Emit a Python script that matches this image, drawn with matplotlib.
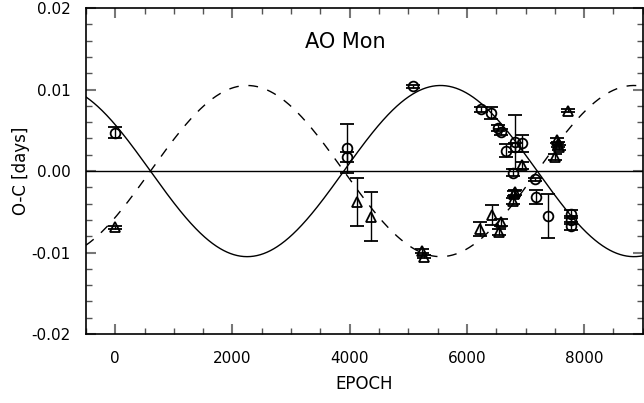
import numpy as np
import matplotlib
matplotlib.use("Agg")
import matplotlib.pyplot as plt
from matplotlib.ticker import MultipleLocator, FormatStrFormatter

# Primary minima (circles): epoch, O-C, error
prim_epoch = [0, 3950, 3950, 5085, 6237, 6407, 6526, 6577, 6814, 6933, 6814,
              6661, 6780, 7170, 7187, 7390, 7780, 7780, 7780]
prim_oc = [0.0047, 0.0028, 0.0017, 0.0104, 0.0076, 0.0071, 0.0053, 0.0048,
           0.0036, 0.0034, 0.0029, 0.0025, -0.0002, -0.0010, -0.0032, -0.0055,
           -0.0053, -0.0060, -0.0067]
prim_err = [0.0007, 0.0030, 0.0006, 0.0002, 0.0003, 0.0007, 0.0004, 0.0004,
            0.0033, 0.0010, 0.0005, 0.0008, 0.0004, 0.0002, 0.0009, 0.0027,
            0.0005, 0.0005, 0.0005]

# Secondary minima (triangles)
sec_epoch = [0, 4119, 4356, 5237, 5271, 6220, 6424, 6577, 6543, 6780, 6800,
             6814, 6933, 7729, 7543, 7560, 7577, 7509]
sec_oc = [-0.0069, -0.0038, -0.0056, -0.0098, -0.0105, -0.0071, -0.0054,
          -0.0063, -0.0075, -0.0037, -0.0028, -0.0026, 0.0007, 0.0074, 0.0038,
          0.0033, 0.0029, 0.0017]
sec_err = [0.0002, 0.0030, 0.0030, 0.0003, 0.0002, 0.0009, 0.0012, 0.0004,
           0.0004, 0.0004, 0.0003, 0.0003, 0.0004, 0.0002, 0.0003, 0.0003,
           0.0003, 0.0004]

# Apsidal motion model parameters
amp = 0.0105
period = 6600.0
t0 = 3900.0

xticks = [0, 2000, 4000, 6000, 8000]
yticks = [-0.02, -0.01, 0.00, 0.01, 0.02]

plt.rcParams['font.family'] = ['DejaVu Sans']

fig = plt.figure(figsize=(6.44, 4.03), dpi=100)
ax = fig.add_axes([0.1335, 0.171, 0.8645, 0.809])

x = np.linspace(-500, 9000, 1000)
model = amp * np.sin(2 * np.pi * (x - t0) / period)
ax.plot(x, model, color='black', lw=1.0)
ax.plot(x, -model, color='black', lw=1.0, linestyle=(0, (7, 7)))
ax.axhline(0, color='black', lw=1.0)

ax.errorbar(prim_epoch, prim_oc, yerr=prim_err, fmt='o', mfc='none',
            mec='black', ecolor='black', mew=1.3, ms=7, capsize=5,
            elinewidth=1.0, capthick=1.0)
ax.errorbar(sec_epoch, sec_oc, yerr=sec_err, fmt='^', mfc='none',
            mec='black', ecolor='black', mew=1.3, ms=7, capsize=5,
            elinewidth=1.0, capthick=1.0)

ax.set_xlim(-500, 9000)
ax.set_ylim(-0.02, 0.02)
ax.set_xticks(xticks)
ax.set_yticks(yticks)
ax.yaxis.set_major_formatter(FormatStrFormatter('%.2f'))
ax.xaxis.set_minor_locator(MultipleLocator(500))
ax.yaxis.set_minor_locator(MultipleLocator(0.002))
ax.tick_params(which='both', direction='in', top=True, right=True,
               labelsize=11)
ax.tick_params(which='major', length=7, width=1.5, color='#777777')
ax.tick_params(axis='y', which='major', pad=11)
ax.tick_params(axis='x', which='major', pad=12)
ax.tick_params(which='minor', length=4, width=1.0, color='#555555')
for s in ax.spines.values():
    s.set_linewidth(1.2)

ax.text(0.465, 0.896, 'AO Mon', transform=ax.transAxes, ha='center',
        va='center', fontsize=15)
ax.set_xlabel('EPOCH', fontsize=12, labelpad=7)
ax.set_ylabel('O-C [days]', fontsize=12, labelpad=1)

fig.savefig('out.png', dpi=100)
